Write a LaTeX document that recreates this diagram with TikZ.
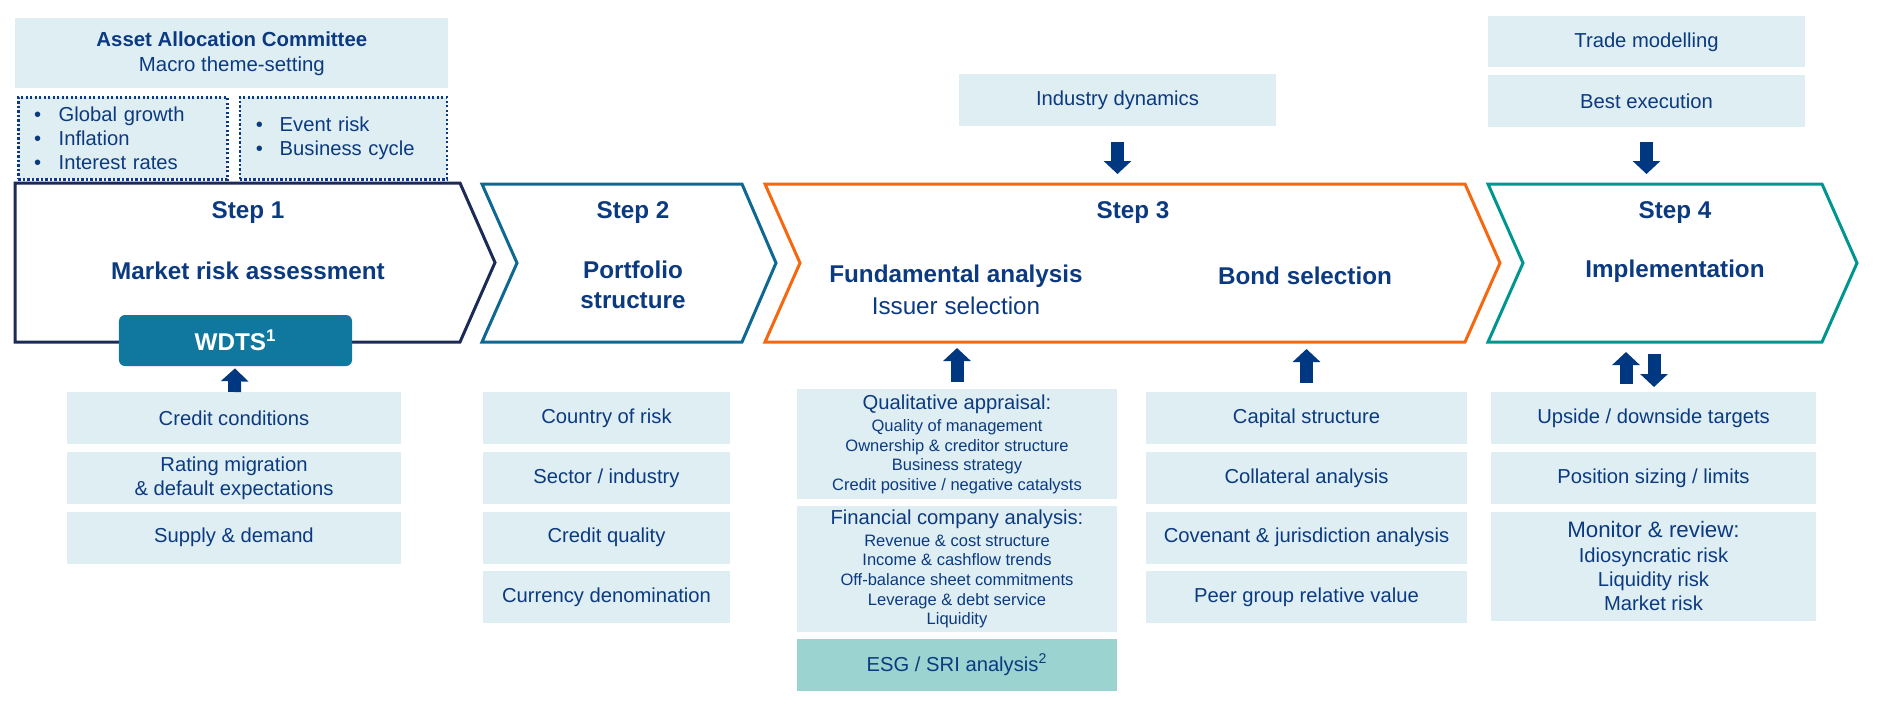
\documentclass[tikz,border=0pt]{standalone}
\usepackage{fontspec}
\setmainfont{Liberation Sans}
\usepackage{tikz}
\usetikzlibrary{arrows.meta,positioning}
\usepackage{xcolor}

\definecolor{navy}{HTML}{0B3A80}
\definecolor{paleblue}{HTML}{DFEEF2}
\definecolor{esgteal}{HTML}{9AD3D0}
\definecolor{wdtsblue}{HTML}{10789E}
\definecolor{arrowblue}{HTML}{003781}
\definecolor{stepone}{HTML}{1B2B55}
\definecolor{steptwo}{HTML}{0E6892}
\definecolor{stepthree}{HTML}{F5680F}
\definecolor{stepfour}{HTML}{00968F}

\begin{document}
\begin{tikzpicture}[
    x=0.2mm, y=-0.2mm,
    node distance=1.4mm,
    every node/.style={text=navy, inner sep=0pt},
    infobox/.style={
        fill=paleblue,
        minimum height=10.4mm,
        align=center,
        font=\fontsize{11.5}{13.7}\selectfont
    },
    listbox/.style={
        fill=paleblue,
        draw=navy,
        line width=0.5mm,
        dash pattern=on 0.45mm off 0.45mm,
        minimum height=16.4mm,
        align=left,
        inner xsep=3.2mm,
        font=\fontsize{11.5}{13.9}\selectfont
    },
    detailbox/.style={
        infobox,
        minimum width=64mm,
        font=\fontsize{9.4}{11.2}\selectfont
    },
    chevron/.style={line width=0.6mm, line join=miter, fill=white},
    steptitle/.style={font=\bfseries\fontsize{13.8}{17}\selectfont, align=center},
    subtitle/.style={font=\fontsize{13.8}{17}\selectfont},
    blockarrow/.style={draw=arrowblue, line width=2.6mm,
        -{Triangle[width=5.4mm,length=2.6mm,fill=arrowblue]}},
    ]

    \useasboundingbox (0,0) rectangle (1877,712);

    \node[infobox, minimum width=86.6mm, minimum height=14mm, anchor=north west,
        font=\fontsize{11.6}{14.2}\selectfont] (aac) at (15,18)
        {\textbf{Asset Allocation Committee}\\Macro theme-setting};
    \node[listbox, text width=35.4mm, anchor=north west] (macroA) at (17,96)
        {\makebox[4.9mm][l]{\textbullet}Global growth\\
         \makebox[4.9mm][l]{\textbullet}Inflation\\
         \makebox[4.9mm][l]{\textbullet}Interest rates};
    \node[listbox, text width=35mm, right=2mm of macroA] (macroB)
        {\makebox[4.8mm][l]{\textbullet}Event risk\\
         \makebox[4.8mm][l]{\textbullet}Business cycle};

    \node[infobox, minimum width=63.4mm, anchor=north] (ind) at (1117.5,74) {Industry dynamics};
    \node[infobox, minimum width=63.4mm, minimum height=10.2mm, anchor=north] (trade) at (1646.5,16) {Trade modelling};
    \node[infobox, minimum width=63.4mm, below=of trade] (best) {Best execution};

    \draw[chevron, draw=stepone] (15,183) -- (460,183) -- (495,262.5) -- (460,342) -- (15,342) -- cycle;
    \draw[chevron, draw=steptwo] (482,184) -- (742,184) -- (776,263) -- (742,342) -- (482,342) -- (517,263) -- cycle;
    \draw[chevron, draw=stepthree] (765,184) -- (1465,184) -- (1500,263) -- (1465,342) -- (765,342) -- (800,263) -- cycle;
    \draw[chevron, draw=stepfour] (1488,184) -- (1822,184) -- (1857,263) -- (1822,342) -- (1488,342) -- (1523,263) -- cycle;

    \node[steptitle] (s1) at (248,213) {Step 1};
    \node[steptitle] (s1name) at (248,271) {Market risk assessment};
    \node[steptitle] (s2) at (633,213) {Step 2};
    \node[steptitle] (s2name) at (633,285) {Portfolio\\structure};
    \node[steptitle] (s3) at (1133,213) {Step 3};
    \node[steptitle] (fund) at (956,276) {Fundamental analysis};
    \node[subtitle] (issuer) at (956,306) {Issuer selection};
    \node[steptitle] (bond) at (1305,276) {Bond selection};
    \node[steptitle] (s4) at (1675,213) {Step 4};
    \node[steptitle] (s4name) at (1675,271) {Implementation};

    \node[fill=wdtsblue, rounded corners=1.2mm, minimum width=46.6mm, minimum height=10.2mm,
        text=white, font=\bfseries\fontsize{13.8}{17}\selectfont] (wdts) at (235.5,340.5)
        {WDTS\textsuperscript{1}};

    \node[infobox, minimum width=66.8mm, anchor=north] (credit) at (234,392) {Credit conditions};
    \node[infobox, minimum width=66.8mm, below=of credit] (rating) {Rating migration\\\& default expectations};
    \node[infobox, minimum width=66.8mm, below=of rating] (supply) {Supply \& demand};

    \node[infobox, minimum width=49.4mm, anchor=north] (country) at (606.5,392) {Country of risk};
    \node[infobox, minimum width=49.4mm, below=of country] (sector) {Sector / industry};
    \node[infobox, minimum width=49.4mm, below=of sector] (quality) {Credit quality};
    \node[infobox, minimum width=49.4mm, below=of quality] (currency) {Currency denomination};

    \node[detailbox, minimum height=22mm, anchor=north] (qual) at (957,389)
        {{\fontsize{11.5}{13}\selectfont Qualitative appraisal:}\\[1.2pt]
         Quality of management\\ Ownership \& creditor structure\\
         Business strategy\\ Credit positive / negative catalysts};
    \node[detailbox, minimum height=25.2mm, below=1.2mm of qual] (fin)
        {{\fontsize{11.5}{13}\selectfont Financial company analysis:}\\[1.2pt]
         Revenue \& cost structure\\ Income \& cashflow trends\\
         Off-balance sheet commitments\\ Leverage \& debt service\\ Liquidity};
    \node[infobox, fill=esgteal, minimum width=64mm, below=1.2mm of fin] (esg)
        {ESG / SRI analysis\textsuperscript{2}};

    \node[infobox, minimum width=64.2mm, anchor=north] (capital) at (1306.5,392) {Capital structure};
    \node[infobox, minimum width=64.2mm, below=of capital] (collat) {Collateral analysis};
    \node[infobox, minimum width=64.2mm, below=of collat] (covenant) {Covenant \& jurisdiction analysis};
    \node[infobox, minimum width=64.2mm, below=of covenant] (peer) {Peer group relative value};

    \node[infobox, minimum width=65mm, anchor=north] (targets) at (1653.5,392) {Upside / downside targets};
    \node[infobox, minimum width=65mm, below=of targets] (sizing) {Position sizing / limits};
    \node[infobox, minimum width=65mm, minimum height=21.8mm, below=of sizing] (monitor)
        {{\fontsize{12.7}{15}\selectfont Monitor \& review:}\\[0.6pt]
         Idiosyncratic risk\\ Liquidity risk\\ Market risk};

    \coordinate (s3top) at (1117.5,184);
    \coordinate (s4top) at (1646.5,184);
    \coordinate (s3fund) at (957,342);
    \coordinate (s3bond) at (1306.5,342);
    \coordinate (s4up) at (1626,341);
    \coordinate (s4down) at (1654,341);

    \draw[blockarrow, shorten <=3mm, shorten >=2mm] (ind) -- (s3top);
    \draw[blockarrow, shorten <=3mm, shorten >=2mm] (best) -- (s4top);
    \draw[blockarrow, shorten >=0.4mm] (credit) -- (wdts);
    \draw[blockarrow, shorten <=1.4mm, shorten >=1.2mm] (qual) -- (s3fund);
    \draw[blockarrow, shorten <=1.8mm, shorten >=1.4mm] (capital) -- (s3bond);
    \draw[blockarrow, shorten <=1.6mm, shorten >=2.2mm] (targets.north -| s4up) -- (s4up);
    \draw[blockarrow, shorten <=2.6mm, shorten >=1mm] (s4down) -- (targets.north -| s4down);
\end{tikzpicture}
\end{document}
